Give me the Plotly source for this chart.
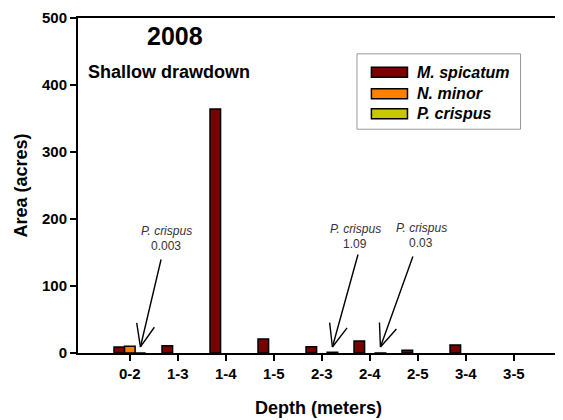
import math
import plotly.graph_objects as go

categories = ["0-2", "1-3", "1-4", "1-5", "2-3", "2-4", "2-5", "3-4", "3-5"]
m_spicatum = [9, 11, 364, 21, 9.5, 18, 4, 12, None]
n_minor = [10, None, None, None, None, None, None, None, None]
p_crispus = [0.003, None, None, None, 1.09, 0.03, None, None, None]

series_names = ["M. spicatum", "N. minor", "P. crispus"]
series_colors = ["#7b0000", "#ff8000", "#c8c800"]

# P. crispus callouts: (category index, label)
callouts = [(0, "0.003"), (4, "1.09"), (5, "0.03")]
# arrow tail offsets (px) from tip, and text offsets (px)
tail_off = [(21, -89), (26, -94), (33, -92)]
text_off = [(26, 116), (23, 118), (41, 119)]

FONT = "Arial, Liberation Sans, sans-serif"

fig = go.Figure()
for name, vals, col in zip(series_names, [m_spicatum, n_minor, p_crispus], series_colors):
    fig.add_trace(go.Bar(
        x=categories, y=vals, name=name, showlegend=False,
        marker=dict(color=col, line=dict(color="black", width=1.5)),
    ))

annotations = []
for (idx, label), (tx, ty), (sx, sy) in zip(callouts, tail_off, text_off):
    tipx = idx + 0.22
    tipy = 9
    annotations.append(dict(
        x=tipx, y=tipy, xref="x", yref="y", ax=tx, ay=ty,
        text="", showarrow=True, arrowhead=0, arrowwidth=1.4,
        arrowcolor="black", standoff=0,
    ))
    L = math.hypot(tx, ty)
    ux, uy = tx / L, ty / L
    for ang in (22, -22):
        a = math.radians(ang)
        bx = ux * math.cos(a) - uy * math.sin(a)
        by = ux * math.sin(a) + uy * math.cos(a)
        annotations.append(dict(
            x=tipx, y=tipy, xref="x", yref="y", ax=bx * 26, ay=by * 26,
            text="", showarrow=True, arrowhead=0, arrowwidth=1.4,
            arrowcolor="black", standoff=0,
        ))
    annotations.append(dict(
        x=tipx, y=tipy, xref="x", yref="y", xshift=sx, yshift=sy,
        text="<i>P. crispus</i>", showarrow=False,
        font=dict(family=FONT, size=12, color="#333333"), align="center",
    ))
    annotations.append(dict(
        x=tipx, y=tipy, xref="x", yref="y", xshift=sx, yshift=sy - 15,
        text=label, showarrow=False,
        font=dict(family=FONT, size=12, color="#333333"), align="center",
    ))

annotations.append(dict(
    x=0.202, y=0.945, xref="paper", yref="paper", text="<b>2008</b>",
    showarrow=False, yanchor="middle", xanchor="center",
    font=dict(family=FONT, size=25, color="black"),
))
annotations.append(dict(
    x=0.017, y=0.84, xref="paper", yref="paper", text="<b>Shallow drawdown</b>",
    showarrow=False, yanchor="middle", xanchor="left",
    font=dict(family=FONT, size=18, color="black"),
))

shapes = [dict(type="rect", xref="paper", yref="paper", x0=0.58, x1=0.92,
               y0=0.668, y1=0.893, line=dict(color="#999999", width=1),
               fillcolor="white", layer="above")]
row_y = [0.838, 0.774, 0.714]
for name, col, ry in zip(series_names, series_colors, row_y):
    shapes.append(dict(type="rect", xref="paper", yref="paper",
                       x0=0.61, x1=0.685, y0=ry - 0.015, y1=ry + 0.015,
                       line=dict(color="black", width=1.5), fillcolor=col,
                       layer="above"))
    annotations.append(dict(
        x=0.7, y=ry, xref="paper", yref="paper", text=f"<b><i>{name}</i></b>",
        showarrow=False, xanchor="left", yanchor="middle",
        font=dict(family=FONT, size=16, color="black"),
    ))

# page body has an 8px default margin; figure sized to fit the window
fig.update_layout(
    width=555, height=412,
    margin=dict(l=70, r=4, t=10, b=67, autoexpand=False),
    paper_bgcolor="white", plot_bgcolor="white",
    barmode="group", bargap=0.34, bargroupgap=0,
    font=dict(family=FONT, color="black"),
    showlegend=False,
    annotations=annotations,
    shapes=shapes,
    xaxis=dict(
        range=[-1.08, 8.94], showline=True, linecolor="black", linewidth=2,
        mirror=True, ticks="outside", ticklen=6, tickwidth=2, tickcolor="black",
        tickfont=dict(family=FONT, size=15, color="black"),
        tickprefix="<b>", ticksuffix="</b>", automargin=False,
        title=dict(text="<b>Depth (meters)</b>", font=dict(family=FONT, size=18), standoff=20),
        showgrid=False,
    ),
    yaxis=dict(
        range=[0, 500], dtick=100, showline=True, linecolor="black", linewidth=2,
        mirror=True, ticks="outside", ticklen=6, tickwidth=2, tickcolor="black",
        tickfont=dict(family=FONT, size=15, color="black"),
        tickprefix="<b>", ticksuffix="</b>", automargin=False,
        title=dict(text="<b>Area (acres)</b>", font=dict(family=FONT, size=18), standoff=10),
        showgrid=False, zeroline=False,
    ),
)

fig.write_html("out.html")
